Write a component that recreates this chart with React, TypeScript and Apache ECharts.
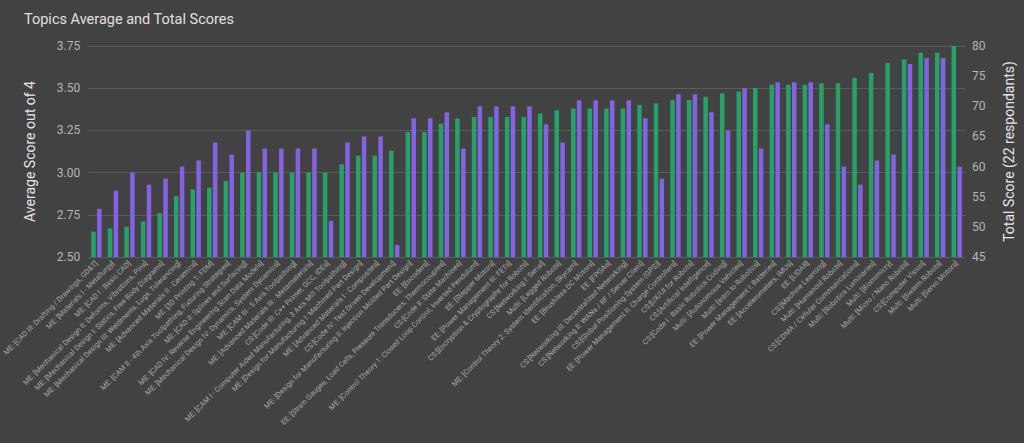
import React, { useEffect, useRef } from "react";
import * as echarts from "echarts";

const categories: string[] = [
  "ME: [CAD III: Drafting / Drawings, GD&T]",
  "ME: [Materials I - Metallurgy]",
  "ME: [CAD I : Basic CAD]",
  "ME: [Mechanical Design II: Deforms, Vibrations, Pins]",
  "ME: [Mechanical Design I: Statics, Free Body Diagrams]",
  "ME: [Mechanical Design III: Weldments, Lugs, Tolerancing]",
  "ME: [Advanced Materials II - Ceramics]",
  "ME: [3D Printing 1: FDM]",
  "ME: [CAM II - 4th Axis Toolpathing, Fixturing Strategies]",
  "ME: [CAD II: Splines and Surfacing]",
  "ME: [CAD IV: Reverse Engineering Scan Data Models]",
  "ME: [Mechanical Design IV: Dynamics, System Dynamics]",
  "ME: [CAM III - 5 Axis Toolpathing]",
  "ME: [Advanced Materials III - Metamaterials]",
  "CS:[Code III: C++ Primer, GCC, IDEs]",
  "ME: [CAM I - Computer Aided Manufacturing, 3 Axis Mill Toolpathing]",
  "ME: [Design for Manufacturing I: Machined Part Design]",
  "ME: [Advanced Materials I - Composites]",
  "CS:[Code IV: Test Driven Development]",
  "ME: [Design for Manufacturing II: Injection Molded Part Design]",
  "EE: [Encoders]",
  "EE: [Strain Gauges, Load Cells, Pressure Transducers, Thermocouples]",
  "CS:[Code II: State Machines]",
  "ME: [Control Theory 1: Closed Loop Control, Inverted Pendulum]",
  "EE: [Stepper Motors]",
  "EE: [Power Management III: FETs]",
  "CS:[Encryption & Cryptography for Robots]",
  "CS:[Networking I: Serial]",
  "Multi: [Legged Robots]",
  "ME: [Control Theory 2: System Identification, Skycam]",
  "EE: [Brushless DC Motors]",
  "EE: [FPGAs]",
  "CS:[Networking III: Decentralized Networking]",
  "CS:[Networking II: WANs / RF / Server Client]",
  "CS:[Global Positioning System (GPS)]",
  "EE: [Power Management II: Charge Controllers]",
  "CS:[UX/UI for Robots]",
  "CS:[Artificial Intelligence]",
  "CS:[Code I : Basic Robotics Coding]",
  "Multi: [Autonomous Vehicles]",
  "Multi: [Intro to Robotics]",
  "EE: [Power Management I: Batteries]",
  "EE: [Accelerometers, IMUs]",
  "EE: [LIDAR]",
  "CS:[Machine Learning]",
  "Multi: [Humanoid Robots]",
  "CS:[CDMA / Cellular Communications]",
  "Multi: [Robotics Luminaries]",
  "Multi: [Biomimicry]",
  "Multi: [Micro / Nano Robots]",
  "CS:[Computer Vision]",
  "Multi: [Swarm Robots]",
  "Multi: [Servo Motors]",
];

const averageScores: number[] = [
  2.65, 2.67, 2.68, 2.71, 2.76, 2.86, 2.9, 2.91, 2.95, 3.0,
  3.0, 3.0, 3.0, 3.0, 3.0, 3.05, 3.1, 3.1, 3.13, 3.24,
  3.24, 3.29, 3.32, 3.33, 3.33, 3.33, 3.33, 3.35, 3.37, 3.38,
  3.38, 3.38, 3.38, 3.4, 3.41, 3.43, 3.43, 3.45, 3.47, 3.48,
  3.5, 3.52, 3.52, 3.52, 3.53, 3.53, 3.56, 3.59, 3.65, 3.67,
  3.71, 3.71, 3.75,
];

const totalScores: number[] = [
  53, 56, 59, 57, 58, 60, 61, 64, 62, 66,
  63, 63, 63, 63, 51, 64, 65, 65, 47, 68,
  68, 69, 63, 70, 70, 70, 70, 67, 64, 71,
  71, 71, 71, 68, 58, 72, 72, 69, 66, 73,
  63, 74, 74, 74, 67, 60, 57, 61, 62, 77,
  78, 78, 60,
];

const FONT = "Roboto, 'Noto Sans', sans-serif";

export default function App() {
  const ref = useRef<HTMLDivElement>(null);

  useEffect(() => {
    document.body.style.margin = "0";
    if (!ref.current) return;
    const chart = echarts.init(ref.current, null, { renderer: "svg" });
    chart.setOption({
      animation: false,
      backgroundColor: "#424242",
      textStyle: { fontFamily: FONT },
      title: {
        text: "Topics Average and Total Scores",
        left: 19,
        top: 7,
        textStyle: { color: "#e0e0e0", fontSize: 14.5, fontWeight: "normal", fontFamily: FONT },
      },
      grid: { left: 85, right: 58, top: 46, bottom: 186, containLabel: false },
      xAxis: {
        type: "category",
        data: categories,
        axisLine: { show: false },
        axisTick: { show: false },
        axisLabel: {
          interval: 0,
          rotate: 45,
          fontSize: 7.4,
          color: "#a8a8a8",
          margin: 5,
          fontFamily: FONT,
        },
      },
      yAxis: [
        {
          type: "value",
          min: 2.5,
          max: 3.75,
          interval: 0.25,
          name: "Average Score out of 4",
          nameLocation: "middle",
          nameRotate: 90,
          nameGap: 51,
          nameTextStyle: { color: "#e6e6e6", fontSize: 14, fontFamily: FONT },
          axisLine: { show: false },
          axisTick: { show: false },
          axisLabel: {
            color: "#b5b5b5",
            fontSize: 12,
            margin: 8,
            formatter: (v: number) => v.toFixed(2),
          },
          splitLine: { show: true, lineStyle: { color: "#5c5c5c", width: 1 } },
        },
        {
          type: "value",
          min: 45,
          max: 80,
          interval: 5,
          position: "right",
          name: "Total Score (22 respondants)",
          nameLocation: "middle",
          nameRotate: 90,
          nameGap: 37,
          nameTextStyle: { color: "#e6e6e6", fontSize: 14, fontFamily: FONT },
          axisLine: { show: false },
          axisTick: { show: false },
          axisLabel: { color: "#b5b5b5", fontSize: 12, margin: 7 },
          splitLine: { show: false },
        },
      ],
      series: [
        {
          name: "Average Score",
          type: "bar",
          yAxisIndex: 0,
          data: averageScores,
          barWidth: 4.5,
          barGap: "30%",
          itemStyle: { color: "#26a269" },
        },
        {
          name: "Total Score",
          type: "bar",
          yAxisIndex: 1,
          data: totalScores,
          barWidth: 4.5,
          barGap: "30%",
          itemStyle: { color: "#8462e4" },
        },
      ],
    });
    return () => chart.dispose();
  }, []);

  return <div ref={ref} style={{ width: 1024, height: 443 }} />;
}
